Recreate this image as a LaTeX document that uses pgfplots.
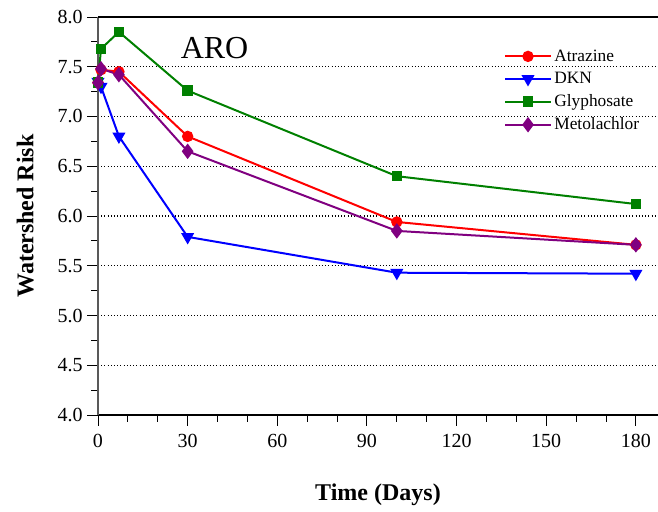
\documentclass[border=0pt]{standalone}
\usepackage{fontspec}
\setmainfont{Liberation Serif}
\usepackage{pgfplots}
\pgfplotsset{compat=1.18}
\definecolor{cgreen}{RGB}{0,128,0}
\definecolor{cpurple}{RGB}{128,0,128}
\begin{document}
\begin{tikzpicture}
\begin{axis}[
  width=420pt, height=298.5pt, scale only axis,
  xmin=0, xmax=187.4, ymin=4, ymax=8,
  axis x line*=bottom, axis y line*=left,
  x axis line style={-, black, line width=0.9pt},
  y axis line style={-, black!65, line width=1.3pt},
  xtick={0,30,60,90,120,150,180}, minor x tick num=2,
  ytick={4,4.5,5,5.5,6,6.5,7,7.5,8}, minor y tick num=1,
  tick align=outside,
  major tick length=8pt, minor tick length=5pt,
  tick style={black, line width=0.7pt},
  yticklabel style={/pgf/number format/.cd, fixed, fixed zerofill, precision=1},
  /pgf/number format/assume math mode=true,
  ticklabel style={font=\rmfamily\fontsize{15}{15}\selectfont},
  xticklabel style={yshift=-3pt},
  ymajorgrids, major grid style={dotted, black, line width=0.8pt},
  xlabel={\textbf{Time (Days)}},
  ylabel={\textbf{Watershed Risk}},
  label style={font=\rmfamily\fontsize{18}{18}\selectfont},
  xlabel style={at={(axis description cs:0.5,-0.2)}, anchor=center},
  ylabel style={at={(axis description cs:-0.13,0.5)}, anchor=center},
  legend style={at={(0.718,0.932)}, anchor=north west, draw=none, fill=none,
    font=\rmfamily\fontsize{13}{13}\selectfont, row sep=2.8pt},
  legend cell align=left,
  legend image code/.code={\draw[mark repeat=2,mark phase=2,#1] plot coordinates {(0pt,0pt) (17pt,0pt) (34pt,0pt)};},
  every axis plot/.append style={line width=1.5pt},
]
\addplot[red, mark=*, mark size=3.5pt] coordinates {
  (0,7.34) (1,7.47) (7,7.45) (30,6.80) (100,5.94) (180,5.71)};
\addplot[blue, mark=triangle*, mark options={rotate=180}, mark size=4.2pt] coordinates {
  (0,7.35) (1,7.30) (7,6.80) (30,5.79) (100,5.43) (180,5.42)};
\addplot[cgreen, mark=square*, mark size=3.2pt] coordinates {
  (0,7.34) (1,7.68) (7,7.85) (30,7.26) (100,6.40) (180,6.12)};
\addplot[cpurple, mark=diamond*, mark size=4.6pt] coordinates {
  (0,7.34) (1,7.48) (7,7.42) (30,6.65) (100,5.85) (180,5.71)};
\legend{Atrazine, DKN, Glyphosate, Metolachlor}
\draw[black, line width=0.9pt] (rel axis cs:0,1) -- (rel axis cs:1,1);
\node[font=\rmfamily\fontsize{24}{24}\selectfont] at (axis cs:39,7.69) {ARO};
\coordinate (bl) at (rel axis cs:0,0);
\coordinate (tr) at (rel axis cs:1,1);
\end{axis}
\pgfresetboundingbox
\path ([xshift=-73.5pt,yshift=-72.75pt]bl) rectangle ([yshift=12.75pt]tr);
\end{tikzpicture}
\end{document}
